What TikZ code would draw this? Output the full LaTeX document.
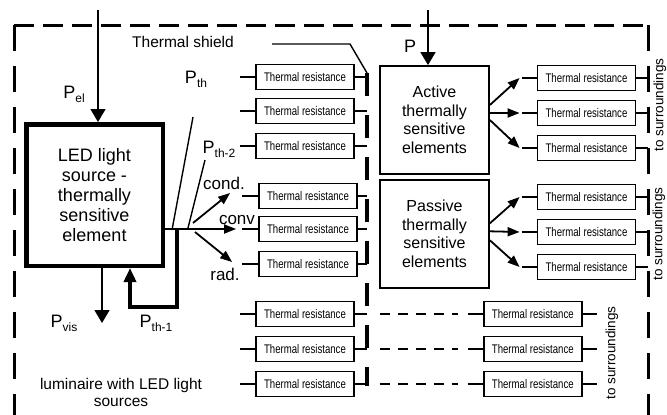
\documentclass[tikz,border=0pt]{standalone}
\usepackage{fontspec}
\setmainfont{Liberation Sans}
\newfontfamily\narrowfont[FakeStretch=0.77]{Liberation Sans}
\usetikzlibrary{arrows.meta,positioning,calc}
\newcommand{\psub}[2]{#1\raisebox{-0.4ex}{\fontsize{12}{12}\selectfont #2}}
\tikzset{
 tres/.style={draw, line width=1.8pt, minimum width=98pt, minimum height=25pt, inner sep=0pt, font=\narrowfont\fontsize{12.5}{13}\selectfont},
 lead/.style={line width=1.6pt},
 ledbox/.style={draw, line width=4.5pt, minimum width=136.5pt, minimum height=141.5pt, align=center, font=\fontsize{18}{20}\selectfont},
 elembox/.style={draw, line width=1.8pt, minimum width=109pt, minimum height=108pt, align=center, font=\fontsize{16}{18.5}\selectfont},
 bigarrow/.style={-{Triangle[length=13pt,width=15pt]}, line width=1.5pt},
 fanarrow/.style={-{Triangle[length=12pt,width=9pt]}, line width=1.8pt},
 looparrow/.style={-{Triangle[length=14pt,width=12pt]}, line width=4pt},
 border/.style={line width=3pt, dash pattern=on 26pt off 15pt},
 shieldline/.style={line width=4.5pt, dash pattern=on 23pt off 19pt},
 link/.style={line width=1.5pt, dash pattern=on 10pt off 8pt},
 thinline/.style={line width=1.4pt},
 lbl/.style={font=\fontsize{18}{18}\selectfont, inner sep=0pt},
 midlbl/.style={font=\fontsize{15.5}{17}\selectfont, inner sep=0pt, align=center},
 heatlbl/.style={font=\fontsize{17}{17}\selectfont, inner sep=0pt},
 surr/.style={rotate=90, font=\fontsize{13.5}{14}\selectfont, inner sep=0pt}
}
\begin{document}
\begin{tikzpicture}[x=1pt,y=-1pt]
\useasboundingbox (0,0) rectangle (667,415);
% luminaire outline
\coordinate (fNW) at (14,25);
\coordinate (fNE) at (648,25);
\coordinate (fSW) at (14,415);
\coordinate (fSE) at (648,415);
\draw[border, dash pattern=on 20pt off 9pt] (fNW) -- (fNE);
\draw[border] (fNW) -- (fSW);
\draw[border] (fNE) -- (fSE);

% sources and elements
\node[ledbox] (led) at (94.5,195) {LED light\\source -\\thermally\\sensitive\\element};
\node[elembox] (act) at (434.5,120) {Active\\thermally\\sensitive\\elements};
\node[elembox, below=4pt of act] (pas) {Passive\\thermally\\sensitive\\elements};

% power in
\coordinate (pelin) at (98,10);
\draw[bigarrow] (pelin) -- (pelin |- led.north);
\node[lbl] (pel) at (74,94) {\psub{P}{el}};
\coordinate (pin) at (428,10);
\draw[bigarrow] (pin) -- (pin |- act.north);
\node[lbl] (p) at (410,46) {P};

% thermal shield
\coordinate (shtop) at (367,73);
\coordinate (shbot) at (367,386);
\draw[shieldline] (shtop) -- (shbot);
\node[midlbl] (shlbl) at (183,42) {Thermal shield};
\coordinate (shtail) at (272,44);
\coordinate (shknee) at (350,44);
\draw[thinline] (shtail) -- (shknee) -- (shtop);

% thermal resistances
\foreach \i/\y in {1/77,2/111,3/146}{
  \node[tres] (ra\i) at (305,\y) {Thermal resistance};
  \draw[lead] ([xshift=-15pt]ra\i.west) -- (ra\i.west);
  \draw[lead] (ra\i.east) -- (ra\i.east -| shtop);
}
\foreach \i/\y in {1/196,2/229,3/264}{
  \node[tres] (rb\i) at (308,\y) {Thermal resistance};
  \draw[lead] ([xshift=-16pt]rb\i.west) -- (rb\i.west);
  \draw[lead] (rb\i.east) -- (rb\i.east -| shtop);
}
\foreach \i/\y in {1/314,2/349,3/384}{
  \node[tres] (rc\i) at (305,\y) {Thermal resistance};
  \node[tres, right=128pt of rc\i] (rf\i) {Thermal resistance};
  \draw[lead] ([xshift=-15pt]rc\i.west) -- (rc\i.west);
  \draw[lead] (rc\i.east) -- (rc\i.east -| shtop);
  \draw[link] ([xshift=25pt]rc\i.east) -- ([xshift=-25pt]rf\i.west);
  \draw[lead] ([xshift=-15pt]rf\i.west) -- (rf\i.west);
  \draw[lead] (rf\i.east) -- ([xshift=14pt]rf\i.east);
}
\foreach \i/\y in {1/78,2/113,3/148}{
  \node[tres] (rd\i) at (586.5,\y) {Thermal resistance};
  \draw[lead] ([xshift=-15pt]rd\i.west) -- (rd\i.west);
  \draw[lead] (rd\i.east) -- (rd\i.east -| fNE);
}
\foreach \i/\y in {1/197,2/232,3/267}{
  \node[tres] (re\i) at (586.5,\y) {Thermal resistance};
  \draw[lead] ([xshift=-15pt]re\i.west) -- (re\i.west);
  \draw[lead] (re\i.east) -- (re\i.east -| fNE);
}

% heat flows of the elements
\foreach \i/\s in {1/15,2/7,3/0}
  \draw[fanarrow] ([yshift=\s pt]act.east) -- ([xshift=-17pt]rd\i.west);
\foreach \i/\s in {1/10.5,2/2.5,3/-6.5}
  \draw[fanarrow] ([yshift=\s pt]pas.east) -- ([xshift=-17pt]re\i.west);

% heat flows of the LED source
\coordinate (fan) at (177,229);
\draw[fanarrow] (fan -| led.east) -- ([xshift=-22pt]rb2.west);
\draw[fanarrow] ([shift={(16pt,6pt)}]fan) -- ([shift={(-28pt,3pt)}]rb1.west);
\draw[fanarrow] ([shift={(18pt,-3pt)}]fan) -- ([shift={(-26pt,2pt)}]rb3.west);
\coordinate (pthfoot) at (172,230);
\coordinate (pthtop) at (193,117);
\coordinate (pth2foot) at (188,228);
\coordinate (pth2top) at (205,160);
\draw[thinline] (pthfoot) -- (pthtop);
\draw[thinline] (pth2foot) -- (pth2top);
\coordinate (loop) at (130,307);
\draw[looparrow] (fan) |- (loop) -- (loop |- led.south);
\coordinate (vis) at (102,323);
\draw[bigarrow] (vis |- led.south) -- (vis);

% labels
\node[lbl] (pvis) at (64,323) {\psub{P}{vis}};
\node[lbl] (pth1) at (156,323) {\psub{P}{th-1}};
\node[lbl] (pth) at (196,79) {\psub{P}{th}};
\node[lbl] (pth2) at (219,149) {\psub{P}{th-2}};
\node[heatlbl] (cond) at (224,183) {cond.};
\node[heatlbl] (conv) at (237,220) {conv};
\node[heatlbl] (rad) at (225,274) {rad.};
\node[midlbl] (lum) at (121,392) {luminaire with LED light\\sources};
\node[surr] (surr1) at (660,105) {to surroundings};
\node[surr] (surr2) at (659,234) {to surroundings};
\node[surr] (surr3) at (612,353) {to surroundings};
\end{tikzpicture}
\end{document}
